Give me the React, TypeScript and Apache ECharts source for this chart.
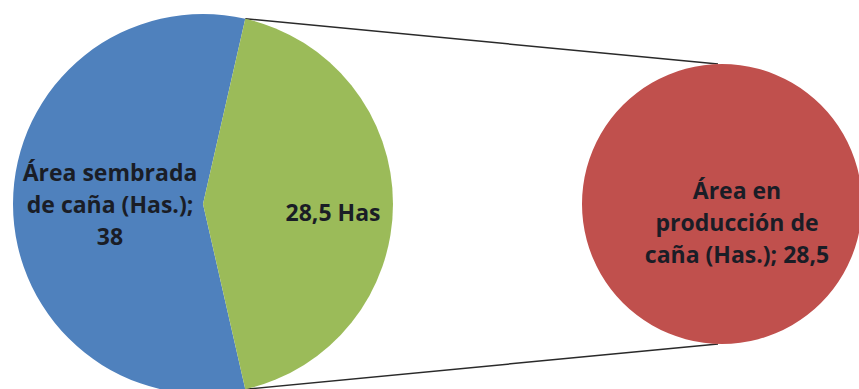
import React, { useEffect, useRef } from "react";
import * as echarts from "echarts";

// Data
const mainNames = ["Área sembrada\nde caña (Has.)", "Otro"];
const mainValues = [38, 28.5];
const secondaryNames = ["Área en\nproducción de\ncaña (Has.)"];
const secondaryValues = [28.5];
const otherSuffix = " Has";
const colors = ["#4F81BD", "#9BBB59", "#C0504D"];

const fmt = (v: number) => String(v).replace(".", ",");

export default function App() {
  const ref = useRef<HTMLDivElement>(null);

  useEffect(() => {
    document.body.style.margin = "0";
    if (!ref.current) return;
    const chart = echarts.init(ref.current, undefined, { renderer: "svg" });

    const total = mainValues.reduce((a, b) => a + b, 0);
    const otherAngle = (mainValues[1] / total) * 360;
    const startAngle = 360 - otherAngle / 2;

    const c1 = [203, 204];
    const r1 = 190;
    const c2 = [722, 204];
    const r2 = 140;
    const half = (otherAngle / 2) * (Math.PI / 180);
    const topPt = [c1[0] + r1 * Math.cos(half), c1[1] - r1 * Math.sin(half)];
    const botPt = [c1[0] + r1 * Math.cos(half), c1[1] + r1 * Math.sin(half)];

    const textStyle = {
      fontFamily: "Open Sans",
      fontWeight: "bold" as const,
      fontSize: 23,
      lineHeight: 32,
      color: "#1a1d26",
    };

    const offsets: Record<string, [number, number]> = {
      "0-0": [5, 0],
      "0-1": [32, 8],
      "1-0": [15, 18],
    };

    chart.setOption({
      animation: false,
      backgroundColor: "#ffffff",
      graphic: [
        {
          type: "line",
          shape: { x1: topPt[0], y1: topPt[1], x2: c2[0] - 4, y2: c2[1] - r2 },
          style: { stroke: "#2a2a2a", lineWidth: 1.5 },
          z: 0,
        },
        {
          type: "line",
          shape: { x1: botPt[0], y1: botPt[1], x2: c2[0] - 4, y2: c2[1] + r2 },
          style: { stroke: "#2a2a2a", lineWidth: 1.5 },
          z: 0,
        },
      ],
      series: [
        {
          type: "pie",
          center: c1,
          radius: r1,
          startAngle,
          clockwise: true,
          avoidLabelOverlap: false,
          label: {
            show: true,
            position: "inside",
            ...textStyle,
            formatter: (p: any) =>
              p.dataIndex === 1
                ? fmt(p.value) + otherSuffix
                : p.name + ";\n" + fmt(p.value),
          },
          labelLine: { show: false },
          labelLayout: (p: any) => {
            const o = offsets[`0-${p.dataIndex}`] || [0, 0];
            return { dx: o[0], dy: o[1] };
          },
          emphasis: { disabled: true },
          data: mainNames.map((n, i) => ({
            name: n,
            value: mainValues[i],
            itemStyle: { color: colors[i] },
          })),
        },
        {
          type: "pie",
          center: c2,
          radius: r2,
          startAngle: 90,
          label: {
            show: true,
            position: "center",
            ...textStyle,
            formatter: (p: any) => p.name + "; " + fmt(p.value),
          },
          labelLine: { show: false },
          labelLayout: (p: any) => {
            const o = offsets[`1-${p.dataIndex}`] || [0, 0];
            return { dx: o[0], dy: o[1] };
          },
          emphasis: { disabled: true },
          data: secondaryNames.map((n, i) => ({
            name: n,
            value: secondaryValues[i],
            itemStyle: { color: colors[2] },
          })),
        },
      ],
    });

    return () => chart.dispose();
  }, []);

  return <div ref={ref} style={{ width: 859, height: 389 }} />;
}
